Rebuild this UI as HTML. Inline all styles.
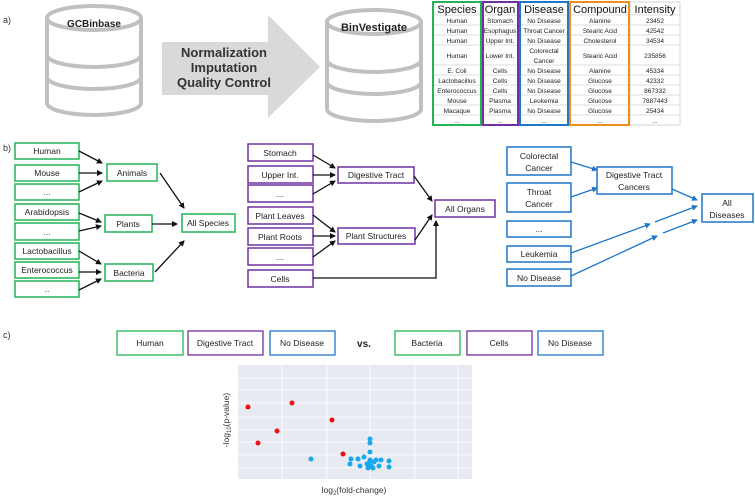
<!DOCTYPE html>
<html><head><meta charset="utf-8"><style>
html,body{margin:0;padding:0;background:#fff;}
svg{display:block;font-family:"Liberation Sans",sans-serif;}
</style></head><body>
<svg width="755" height="498" viewBox="0 0 755 498" xmlns="http://www.w3.org/2000/svg">
<defs>
<marker id="ak" markerWidth="6" markerHeight="6" refX="5" refY="3" orient="auto" markerUnits="userSpaceOnUse"><path d="M0,0 L6,3 L0,6z" fill="#111"/></marker>
<marker id="ab" markerWidth="6" markerHeight="6" refX="5" refY="3" orient="auto" markerUnits="userSpaceOnUse"><path d="M0,0 L6,3 L0,6z" fill="#1f77c8"/></marker>
</defs>
<!-- a) -->
<text x="3" y="23" font-size="9" fill="#333">a)</text>
<g fill="#fff" stroke="#c0c0c0" stroke-width="4">
<path d="M47,18 V103 A47,12 0 0 0 141,103 V18"/>
<path d="M47,55 A47,12 0 0 0 141,55"/>
<path d="M47,77 A47,12 0 0 0 141,77"/>
<ellipse cx="94" cy="18" rx="47" ry="12"/>
<path d="M327,22 V109 A47,12 0 0 0 421,109 V22"/>
<path d="M327,60 A47,12 0 0 0 421,60"/>
<path d="M327,82 A47,12 0 0 0 421,82"/>
<ellipse cx="374" cy="22" rx="47" ry="12"/>
</g>
<text x="94" y="27" font-size="10" font-weight="bold" text-anchor="middle" fill="#222">GCBinbase</text>
<text x="374" y="31" font-size="11" font-weight="bold" text-anchor="middle" fill="#222">BinVestigate</text>
<path d="M162,42 H268 V15 L320,67 L268,118 V95 H162z" fill="#d9d9d9"/>
<g font-size="13" font-weight="bold" text-anchor="middle" fill="#333">
<text x="224" y="57">Normalization</text><text x="224" y="72">Imputation</text><text x="224" y="87">Quality Control</text>
</g>
<!-- table -->
<g stroke="#bbb" stroke-width="0.6">
<line x1="433" y1="15" x2="680" y2="15"/><line x1="433" y1="25" x2="680" y2="25"/><line x1="433" y1="35" x2="680" y2="35"/><line x1="433" y1="45" x2="680" y2="45"/><line x1="433" y1="65" x2="680" y2="65"/><line x1="433" y1="75" x2="680" y2="75"/><line x1="433" y1="85" x2="680" y2="85"/><line x1="433" y1="95" x2="680" y2="95"/><line x1="433" y1="105" x2="680" y2="105"/><line x1="433" y1="115" x2="680" y2="115"/>
<rect x="630" y="2" width="50" height="123" fill="none"/>
</g>
<g fill="none" stroke-width="2">
<rect x="433" y="2" width="48" height="123" stroke="#22b456"/>
<rect x="483" y="2" width="35" height="123" stroke="#7030a0"/>
<rect x="520" y="2" width="48" height="123" stroke="#1f77c8"/>
<rect x="570" y="2" width="59" height="123" stroke="#ed8f1c"/>
</g>
<g font-size="11" text-anchor="middle" fill="#111">
<text x="457" y="13">Species</text><text x="500" y="13">Organ</text><text x="544" y="13">Disease</text><text x="600" y="13">Compound</text><text x="655" y="13">Intensity</text>
</g>
<g font-size="6.5" text-anchor="middle" fill="#222">
<text x="457" y="23">Human</text><text x="500" y="23">Stomach</text><text x="544" y="23">No Disease</text><text x="600" y="23">Alanine</text><text x="655" y="23">23452</text>
<text x="457" y="33">Human</text><text x="500" y="33">Esophagus</text><text x="544" y="33">Throat Cancer</text><text x="600" y="33">Stearic Acid</text><text x="655" y="33">42542</text>
<text x="457" y="43">Human</text><text x="500" y="43">Upper Int.</text><text x="544" y="43">No Disease</text><text x="600" y="43">Cholesterol</text><text x="655" y="43">34534</text>
<text x="457" y="58">Human</text><text x="500" y="58">Lower Int.</text><text x="544" y="53">Colorectal</text><text x="544" y="63">Cancer</text><text x="600" y="58">Stearic Acid</text><text x="655" y="58">235856</text>
<text x="457" y="73">E. Coli</text><text x="500" y="73">Cells</text><text x="544" y="73">No Disease</text><text x="600" y="73">Alanine</text><text x="655" y="73">45334</text>
<text x="457" y="83">Lactobacillus</text><text x="500" y="83">Cells</text><text x="544" y="83">No Disease</text><text x="600" y="83">Glucose</text><text x="655" y="83">42332</text>
<text x="457" y="93">Enterococcus</text><text x="500" y="93">Cells</text><text x="544" y="93">No Disease</text><text x="600" y="93">Glucose</text><text x="655" y="93">867332</text>
<text x="457" y="103">Mouse</text><text x="500" y="103">Plasma</text><text x="544" y="103">Leukemia</text><text x="600" y="103">Glucose</text><text x="655" y="103">7887443</text>
<text x="457" y="113">Macaque</text><text x="500" y="113">Plasma</text><text x="544" y="113">No Disease</text><text x="600" y="113">Glucose</text><text x="655" y="113">25434</text>
<text x="457" y="123">...</text><text x="500" y="123">...</text><text x="544" y="123">...</text><text x="600" y="123">...</text><text x="655" y="123">...</text>
</g>
<!-- b) -->
<text x="3" y="151" font-size="9" fill="#333">b)</text>
<g fill="#fff" stroke="#22b456" stroke-width="1.5">
<rect x="15" y="143" width="64" height="16"/><rect x="15" y="165" width="64" height="16"/><rect x="15" y="184" width="64" height="16"/><rect x="15" y="204" width="64" height="16"/><rect x="15" y="223" width="64" height="17"/><rect x="15" y="243" width="64" height="16"/><rect x="15" y="262" width="64" height="16"/><rect x="15" y="281" width="64" height="16"/>
<rect x="107" y="164" width="50" height="17"/><rect x="105" y="215" width="47" height="17"/><rect x="105" y="264" width="48" height="17"/><rect x="182" y="214" width="53" height="18"/>
</g>
<g font-size="8.5" text-anchor="middle" fill="#222">
<text x="47" y="154">Human</text><text x="47" y="176">Mouse</text><text x="47" y="195">...</text><text x="47" y="215">Arabidopsis</text><text x="47" y="235">...</text><text x="47" y="254">Lactobacillus</text><text x="47" y="273">Enterococcus</text><text x="47" y="292">..</text>
<text x="132" y="176">Animals</text><text x="128" y="227">Plants</text><text x="129" y="276">Bacteria</text><text x="208" y="226">All Species</text>
</g>
<g stroke="#111" stroke-width="1.3" marker-end="url(#ak)">
<line x1="79" y1="151" x2="102" y2="163"/><line x1="79" y1="173" x2="102" y2="173"/><line x1="79" y1="192" x2="102" y2="181"/>
<line x1="160" y1="173" x2="184" y2="208"/>
<line x1="79" y1="213" x2="101" y2="222"/><line x1="79" y1="231" x2="101" y2="226"/><line x1="152" y1="224" x2="177" y2="224"/>
<line x1="79" y1="251" x2="101" y2="264"/><line x1="79" y1="272" x2="101" y2="272"/><line x1="79" y1="290" x2="101" y2="279"/>
<line x1="155" y1="272" x2="184" y2="241"/>
</g>
<g fill="#fff" stroke="#7030a0" stroke-width="1.5">
<rect x="248" y="144" width="65" height="17"/><rect x="248" y="166" width="65" height="17"/><rect x="248" y="185" width="65" height="17"/><rect x="248" y="207" width="65" height="17"/><rect x="248" y="228" width="65" height="17"/><rect x="248" y="248" width="65" height="17"/><rect x="248" y="270" width="65" height="17"/>
<rect x="338" y="167" width="76" height="16"/><rect x="338" y="228" width="77" height="16"/><rect x="435" y="200" width="60" height="17"/>
</g>
<g font-size="8.5" text-anchor="middle" fill="#222">
<text x="280" y="156">Stomach</text><text x="280" y="178">Upper Int.</text><text x="280" y="197">...</text><text x="280" y="219">Plant Leaves</text><text x="280" y="240">Plant Roots</text><text x="280" y="260">...</text><text x="280" y="282">Cells</text>
<text x="376" y="178">Digestive Tract</text><text x="376" y="239">Plant Structures</text><text x="465" y="212">All Organs</text>
</g>
<g stroke="#111" stroke-width="1.3" fill="none" marker-end="url(#ak)">
<line x1="313" y1="155" x2="335" y2="168"/><line x1="313" y1="175" x2="335" y2="175"/><line x1="313" y1="194" x2="335" y2="181"/>
<line x1="414" y1="176" x2="432" y2="201"/>
<line x1="313" y1="215" x2="335" y2="232"/><line x1="313" y1="236" x2="335" y2="236"/><line x1="313" y1="257" x2="335" y2="241"/>
<line x1="415" y1="240" x2="432" y2="215"/>
<polyline points="313,278 436,278 436,221"/>
</g>
<g fill="#fff" stroke="#1f77c8" stroke-width="1.5">
<rect x="507" y="147" width="64" height="28"/><rect x="507" y="183" width="64" height="29"/><rect x="507" y="221" width="64" height="16"/><rect x="507" y="246" width="64" height="16"/><rect x="507" y="269" width="64" height="17"/>
<rect x="597" y="167" width="75" height="27"/><rect x="702" y="194" width="51" height="28"/>
</g>
<g font-size="8.5" text-anchor="middle" fill="#222">
<text x="539" y="159">Colorectal</text><text x="539" y="171">Cancer</text><text x="539" y="195">Throat</text><text x="539" y="207">Cancer</text><text x="539" y="232">...</text><text x="539" y="257">Leukemia</text><text x="539" y="281">No Disease</text>
<text x="634" y="178">Digestive Tract</text><text x="634" y="190">Cancers</text><text x="727" y="206">All</text><text x="727" y="218">Diseases</text>
</g>
<g stroke="#1f77c8" stroke-width="1.3" marker-end="url(#ab)">
<line x1="571" y1="162" x2="597" y2="170"/><line x1="571" y1="197" x2="597" y2="188"/><line x1="672" y1="189" x2="697" y2="200"/>
<line x1="571" y1="253" x2="650" y2="224"/><line x1="655" y1="222" x2="697" y2="206"/>
<line x1="571" y1="276" x2="657" y2="236"/><line x1="663" y1="233" x2="697" y2="220"/>
</g>
<!-- c) -->
<text x="3" y="338" font-size="9" fill="#333">c)</text>
<g fill="#fff" stroke-width="1.3">
<rect x="117" y="331" width="66" height="24" stroke="#22b456"/><rect x="188" y="331" width="75" height="24" stroke="#7030a0"/><rect x="270" y="331" width="65" height="24" stroke="#1f77c8"/>
<rect x="395" y="331" width="65" height="24" stroke="#22b456"/><rect x="467" y="331" width="65" height="24" stroke="#7030a0"/><rect x="538" y="331" width="65" height="24" stroke="#1f77c8"/>
</g>
<g font-size="8.5" text-anchor="middle" fill="#222">
<text x="150" y="346">Human</text><text x="225" y="346">Digestive Tract</text><text x="302" y="346">No Disease</text>
<text x="427" y="346">Bacteria</text><text x="499" y="346">Cells</text><text x="570" y="346">No Disease</text>
</g>
<text x="364" y="347" font-size="10" font-weight="bold" text-anchor="middle" fill="#222">vs.</text>
<!-- plot -->
<rect x="238" y="365" width="234" height="114" fill="#e8eaf2"/>
<g stroke="#fff" stroke-width="0.8">
<line x1="282" y1="365" x2="282" y2="479"/><line x1="327" y1="365" x2="327" y2="479"/><line x1="370" y1="365" x2="370" y2="479"/><line x1="415" y1="365" x2="415" y2="479"/><line x1="458" y1="365" x2="458" y2="479"/>
<line x1="238" y1="378" x2="472" y2="378"/><line x1="238" y1="390" x2="472" y2="390"/><line x1="238" y1="403" x2="472" y2="403"/><line x1="238" y1="417" x2="472" y2="417"/><line x1="238" y1="430" x2="472" y2="430"/><line x1="238" y1="442" x2="472" y2="442"/><line x1="238" y1="455" x2="472" y2="455"/><line x1="238" y1="468" x2="472" y2="468"/>
</g>
<g fill="#ee1111">
<circle cx="248" cy="407" r="2.5"/><circle cx="292" cy="403" r="2.5"/><circle cx="332" cy="420" r="2.5"/><circle cx="277" cy="431" r="2.5"/><circle cx="258" cy="443" r="2.5"/><circle cx="343" cy="454" r="2.5"/>
</g>
<g fill="#1aa7ec">
<circle cx="311" cy="459" r="2.5"/><circle cx="370" cy="439" r="2.5"/><circle cx="370" cy="443" r="2.5"/><circle cx="370" cy="452" r="2.5"/><circle cx="364" cy="457" r="2.5"/><circle cx="351" cy="459" r="2.5"/><circle cx="358" cy="459" r="2.5"/><circle cx="350" cy="464" r="2.5"/><circle cx="360" cy="466" r="2.5"/><circle cx="367" cy="464" r="2.5"/><circle cx="370" cy="460" r="2.5"/><circle cx="376" cy="460" r="2.5"/><circle cx="381" cy="460" r="2.5"/><circle cx="389" cy="461" r="2.5"/><circle cx="389" cy="467" r="2.5"/><circle cx="379" cy="466" r="2.5"/><circle cx="374" cy="462" r="2.5"/><circle cx="368" cy="468" r="2.5"/><circle cx="373" cy="468" r="2.5"/><circle cx="371" cy="466" r="2.5"/><circle cx="369" cy="463" r="2.5"/>
</g>
<text x="354" y="493" font-size="8.5" text-anchor="middle" fill="#333">log<tspan font-size="6" dy="2">2</tspan><tspan dy="-2">(fold-change)</tspan></text>
<text transform="translate(229,420) rotate(-90)" font-size="8.5" text-anchor="middle" fill="#333">-log<tspan font-size="6" dy="2">10</tspan><tspan dy="-2">(p-value)</tspan></text>
</svg>
</body></html>
